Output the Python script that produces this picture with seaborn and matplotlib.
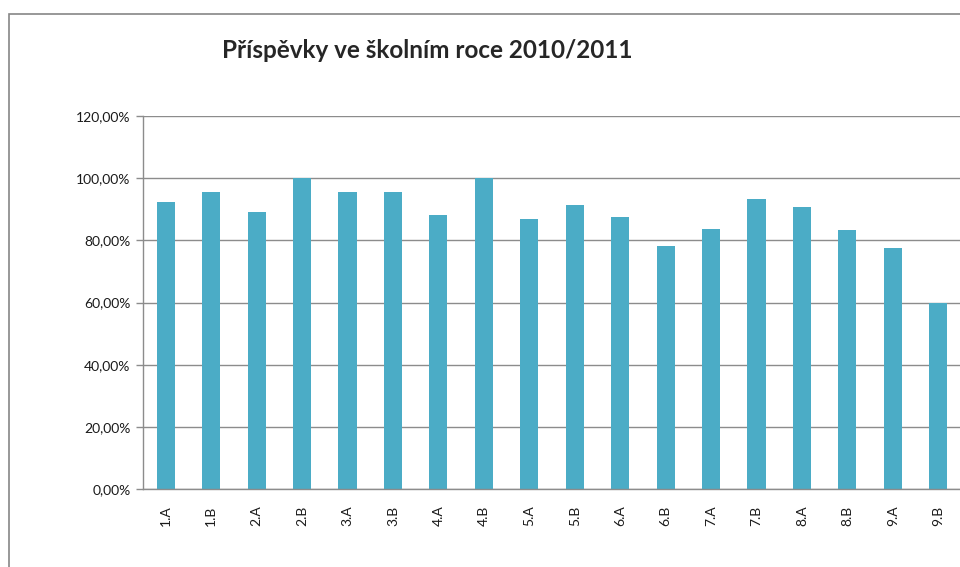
import matplotlib
matplotlib.use("Agg")
import matplotlib.pyplot as plt
import matplotlib.patches as patches
from matplotlib.ticker import FuncFormatter, FixedLocator
import seaborn as sns
import pandas as pd


classes = ["1.A", "1.B", "2.A", "2.B", "3.A", "3.B", "4.A", "4.B", "5.A",
           "5.B", "6.A", "6.B", "7.A", "7.B", "8.A", "8.B", "9.A", "9.B"]
shares = [92.2, 95.7, 89.0, 100.0, 95.7, 95.7, 88.0, 100.0, 87.0,
          91.5, 87.4, 78.1, 83.8, 93.4, 90.6, 83.2, 77.4, 60.0]
y_ticks = [0, 20, 40, 60, 80, 100, 120]

BAR_COLOR = "#4BACC6"
GRID_COLOR = "#8C8C8C"

sns.set_style("white")
plt.rcParams["font.family"] = ["Lato", "DejaVu Sans"]

df = pd.DataFrame({"trida": classes, "podil": shares})

fig = plt.figure(figsize=(9.6, 5.67), dpi=100)
ax = fig.add_axes([143 / 960, 1 - 489 / 567, 818 / 960, 373 / 567])

sns.barplot(
    data=df,
    x="trida",
    y="podil",
    color=BAR_COLOR,
    saturation=1,
    width=0.4,
    linewidth=0,
    ax=ax
)

ax.set_xlim(-0.5, len(classes) - 0.5)
ax.set_ylim(0, 120)
ax.set_yticks(y_ticks)
ax.yaxis.set_major_formatter(
    FuncFormatter(lambda v, p: f"{v:.2f}%".replace(".", ","))
)
ax.grid(axis="y", color=GRID_COLOR, linewidth=1)
ax.set_axisbelow(True)

ax.set_xlabel("")
ax.set_ylabel("")
ax.tick_params(axis="x", which="major", length=0, pad=12,
               labelrotation=90, labelsize=10, labelcolor="#1a1a1a")
ax.xaxis.set_minor_locator(FixedLocator([i + 0.5 for i in range(len(classes))]))
ax.tick_params(axis="x", which="minor", length=5, color=GRID_COLOR, width=1)
ax.tick_params(axis="y", length=5, color=GRID_COLOR, width=1, pad=4,
               labelsize=10, labelcolor="#1a1a1a", left=True)

for side in ["top", "right"]:
    ax.spines[side].set_visible(False)
for side in ["left", "bottom"]:
    ax.spines[side].set_color(GRID_COLOR)
    ax.spines[side].set_linewidth(1)

fig.text(427 / 960, 1 - 50 / 567, "Příspěvky ve školním roce 2010/2011",
         ha="center", va="center", fontsize=17.5, fontweight="bold")

# chart area border (only left and top edges fall inside the picture)
fig.patches.append(patches.Rectangle(
    (9 / 960, -0.1), 1.2, 1.1 - 14 / 567,
    transform=fig.transFigure, fill=False,
    edgecolor="#868686", linewidth=1.2
))

plt.savefig("out.png", dpi=100)
plt.close()
